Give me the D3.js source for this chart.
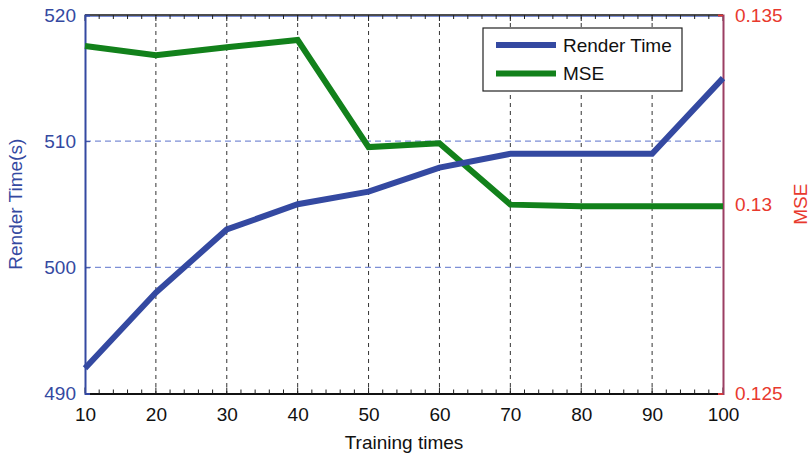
<!DOCTYPE html>
<html>
<head>
<meta charset="utf-8">
<script src="https://cdn.jsdelivr.net/npm/d3@7"></script>
<style>
  body { margin: 0; background: #fff; }
  text { font-family: "Liberation Sans", Arial, sans-serif; }
</style>
</head>
<body>
<div id="chart"></div>
<script>
// data
var trainingTimes = [10, 20, 30, 40, 50, 60, 70, 80, 90, 100];
var renderTime = [492, 498, 503, 505, 506, 507.9, 509, 509, 509, 515];
var mse = [0.13418, 0.13394, 0.13415, 0.13434, 0.13151, 0.13161, 0.12999, 0.12995, 0.12995, 0.12995];
var leftTicks = [490, 500, 510, 520];
var rightTicks = [0.125, 0.13, 0.135];
var rightTickLabels = ["0.125", "0.13", "0.135"];
var seriesNames = ["Render Time", "MSE"];

var width = 811, height = 458;
var margin = {top: 15, right: 88, bottom: 65, left: 85};
var blue = "#3449a1", green = "#12811b", red = "#e8392e", maroon = "#9b3f63";

var svg = d3.select("#chart").append("svg")
  .attr("width", width)
  .attr("height", height);

var x = d3.scaleLinear().domain([10, 100]).range([margin.left, width - margin.right]);
var yL = d3.scaleLinear().domain([490, 520]).range([height - margin.bottom + 0.5, margin.top]);
var yR = d3.scaleLinear().domain([0.125, 0.135]).range([height - margin.bottom + 0.5, margin.top]);

var x0 = x.range()[0], x1 = x.range()[1];
var yb = yL.range()[0], yt = yL.range()[1];

// vertical grid
svg.append("g").selectAll("line")
  .data(trainingTimes.slice(1, -1))
  .enter().append("line")
  .attr("x1", d => x(d)).attr("x2", d => x(d))
  .attr("y1", yt).attr("y2", yb)
  .attr("stroke", "#333").attr("stroke-width", 1)
  .attr("stroke-dasharray", "4,4");

// horizontal grid (left axis)
svg.append("g").selectAll("line")
  .data([500, 510])
  .enter().append("line")
  .attr("x1", x0).attr("x2", x1)
  .attr("y1", d => yL(d)).attr("y2", d => yL(d))
  .attr("stroke", "#7d8fd6").attr("stroke-width", 1.2)
  .attr("stroke-dasharray", "6,4");

// bottom axis
var xAxis = d3.axisBottom(x).tickValues(trainingTimes).tickSize(0).tickPadding(14);
var gx = svg.append("g").attr("transform", "translate(0," + yb + ")").call(xAxis);
gx.select(".domain").attr("stroke", "#111").attr("stroke-width", 2);
gx.selectAll("text").attr("font-size", 19).attr("fill", "#111")
  .attr("font-family", "Liberation Sans, Arial, sans-serif");

// top border
svg.append("line").attr("x1", x0).attr("x2", x1).attr("y1", yt).attr("y2", yt)
  .attr("stroke", "#111").attr("stroke-width", 1.5);
svg.append("line").attr("x1", x0).attr("x2", x1).attr("y1", yt + 1.5).attr("y2", yt + 1.5)
  .attr("stroke", "#7d8fd6").attr("stroke-width", 1);

// minor + major ticks bottom and top
var minor = d3.range(10, 101, 2);
svg.append("g").selectAll("line").data(minor).enter().append("line")
  .attr("x1", d => x(d)).attr("x2", d => x(d))
  .attr("y1", yb).attr("y2", d => yb - (d % 10 === 0 ? 6 : 4))
  .attr("stroke", "#222").attr("stroke-width", 1);
svg.append("g").selectAll("line").data(minor).enter().append("line")
  .attr("x1", d => x(d)).attr("x2", d => x(d))
  .attr("y1", yt).attr("y2", d => yt + (d % 10 === 0 ? 6 : 4))
  .attr("stroke", "#222").attr("stroke-width", 1);

// left axis
var yAxisL = d3.axisLeft(yL).tickValues(leftTicks).tickSize(-5).tickPadding(9);
var gl = svg.append("g").attr("transform", "translate(" + x0 + ",0)").call(yAxisL);
gl.select(".domain").attr("stroke", blue).attr("stroke-width", 2);
gl.selectAll(".tick line").attr("stroke", blue);
gl.selectAll("text").attr("font-size", 19).attr("fill", blue)
  .attr("font-family", "Liberation Sans, Arial, sans-serif");

// right axis
var yAxisR = d3.axisRight(yR).tickValues(rightTicks)
  .tickFormat((d, i) => rightTickLabels[i]).tickSize(-5).tickPadding(12);
var gr = svg.append("g").attr("transform", "translate(" + x1 + ",0)").call(yAxisR);
gr.select(".domain").attr("stroke", maroon).attr("stroke-width", 2);
gr.selectAll(".tick line").attr("stroke", red).attr("stroke-width", 1.5);
gr.selectAll("text").attr("font-size", 19).attr("fill", red)
  .attr("font-family", "Liberation Sans, Arial, sans-serif");

// lines
var lineL = d3.line().x((d, i) => x(trainingTimes[i])).y(d => yL(d));
var lineR = d3.line().x((d, i) => x(trainingTimes[i])).y(d => yR(d));

svg.append("path").datum(mse)
  .attr("d", lineR).attr("fill", "none")
  .attr("stroke", green).attr("stroke-width", 6).attr("stroke-linejoin", "miter");
svg.append("path").datum(renderTime)
  .attr("d", lineL).attr("fill", "none")
  .attr("stroke", blue).attr("stroke-width", 6).attr("stroke-linejoin", "miter");

// axis titles
svg.append("text")
  .attr("transform", "translate(22," + ((yt + yb) / 2) + ") rotate(-90)")
  .attr("text-anchor", "middle").attr("font-size", 19).attr("fill", blue)
  .text("Render Time(s)");
svg.append("text")
  .attr("transform", "translate(807," + ((yt + yb) / 2) + ") rotate(-90)")
  .attr("text-anchor", "middle").attr("font-size", 19).attr("fill", red)
  .text("MSE");
svg.append("text")
  .attr("x", (x0 + x1) / 2).attr("y", 449)
  .attr("text-anchor", "middle").attr("font-size", 19).attr("fill", "#111")
  .text("Training times");

// legend
var lg = svg.append("g").attr("transform", "translate(483,28)");
lg.append("rect").attr("width", 199).attr("height", 63)
  .attr("fill", "#fff").attr("stroke", "#222").attr("stroke-width", 1.2);
var colors = [blue, green];
seriesNames.forEach(function (name, i) {
  var yy = 17 + i * 28.5;
  lg.append("line").attr("x1", 13).attr("x2", 73).attr("y1", yy).attr("y2", yy)
    .attr("stroke", colors[i]).attr("stroke-width", 6);
  lg.append("text").attr("x", 80).attr("y", yy).attr("dy", "0.35em")
    .attr("font-size", 19).attr("fill", "#111").text(name);
});
</script>
</body>
</html>
